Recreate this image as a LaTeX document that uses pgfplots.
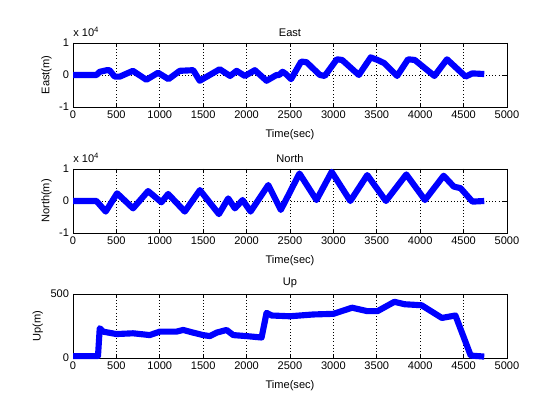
\documentclass[border=0pt]{standalone}
\usepackage{fontspec}
\setmainfont{Liberation Sans}
\usepackage{pgfplots}
\pgfplotsset{compat=1.18}
\pgfplotsset{
 mystyle/.style={
  scale only axis, width=325.5pt, height=48pt,
  xmin=0, xmax=5000, xtick={0,500,...,5000},
  grid=major, major grid style={black, dotted, line width=0.5pt},
  tick align=inside, major tick length=3pt,
  tick style={black, line width=0.5pt},
  axis line style={line width=0.5pt},
  /pgf/number format/assume math mode=true,
  /pgf/number format/1000 sep={},
  scaled ticks=false,
  tick label style={font=\fontsize{8.3}{10}\selectfont},
  label style={font=\fontsize{8.3}{10}\selectfont},
  title style={font=\fontsize{8.3}{10}\selectfont, yshift=-4pt},
  xlabel={Time(sec)},
  xlabel style={at={(axis description cs:0.5,0)}, anchor=north, yshift=-14pt},
  anchor=south west,
  clip=false,
 },
 myline/.style={color={rgb,255:red,0;green,0;blue,255}, line width=4.6pt, line join=round, line cap=butt, mark=none},
}
\begin{document}
\fontsize{8.3}{10}\selectfont
\begin{tikzpicture}
\path (0,0) rectangle (420pt,315pt);
% East
\begin{axis}[mystyle, at={(54.75pt,234.75pt)}, title={East}, ylabel={East(m)},
  ymin=-10000, ymax=10000, ytick={-10000,0,10000}, yticklabels={-1,0,1}]
\addplot[myline] coordinates {
(0,0)(270,0)(308,1000)(390,1500)(420,1500)(480,-500)(540,-500)(690,1300)(845,-1500)(980,700)(1100,-1300)(1230,1300)(1385,1500)(1460,-1800)(1690,1800)(1810,-300)(1885,1300)(1980,-300)(2095,1500)(2230,-1800)(2345,0)(2375,0)(2414,1000)(2453,300)(2512,-1300)(2629,4200)(2690,4000)(2844,0)(2900,-300)(3040,4900)(3100,4700)(3293,0)(3430,5500)(3508,4700)(3586,3700)(3734,-300)(3860,4900)(3937,4700)(4164,-300)(4309,4900)(4523,-500)(4600,500)(4738,300)
};
\node[anchor=south west, inner sep=0pt, yshift=4.5pt, font=\fontsize{8.3}{10}\selectfont] at (rel axis cs:0,1) {x 10\textsuperscript{4}};
\end{axis}
% North
\begin{axis}[mystyle, at={(54.75pt,140.25pt)}, title={North}, ylabel={North(m)},
  ymin=-10000, ymax=10000, ytick={-10000,0,10000}, yticklabels={-1,0,1}]
\addplot[myline] coordinates {
(0,0)(270,0)(377,-3300)(508,2400)(692,-2300)(865,3100)(1019,-400)(1096,2200)(1288,-3300)(1462,3400)(1681,-4100)(1788,800)(1865,-2300)(1954,300)(2046,-3300)(2250,5000)(2394,-2800)(2609,8600)(2805,300)(2980,9100)(3195,0)(3390,8100)(3605,0)(3840,8300)(4055,300)(4270,7900)(4387,4500)(4465,4000)(4602,-200)(4738,0)
};
\node[anchor=south west, inner sep=0pt, yshift=4.5pt, font=\fontsize{8.3}{10}\selectfont] at (rel axis cs:0,1) {x 10\textsuperscript{4}};
\end{axis}
% Up
\begin{axis}[mystyle, at={(54.75pt,46.5pt)}, title={Up}, ylabel={Up(m)},
  ymin=0, ymax=500, ytick={0,500}]
\addplot[myline] coordinates {
(0,15)(288,15)(308,233)(346,206)(500,187)(692,193)(885,179)(1000,206)(1192,206)(1270,219)(1385,198)(1500,179)(1577,171)(1654,198)(1769,219)(1846,179)(2000,171)(2173,160)(2230,353)(2288,332)(2500,326)(2766,340)(3000,345)(3215,393)(3390,366)(3508,366)(3703,439)(3820,420)(4016,412)(4250,313)(4406,332)(4582,19)(4738,11)
};
\end{axis}
\end{tikzpicture}
\end{document}
